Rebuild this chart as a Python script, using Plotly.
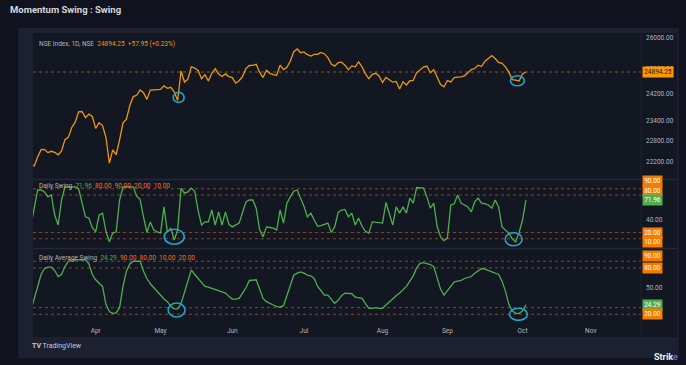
import math
import pandas as pd
import plotly.graph_objects as go

# ---------------- data ----------------
holidays = ["2025-03-14", "2025-03-31", "2025-04-10", "2025-04-14", "2025-04-18",
            "2025-05-01", "2025-08-15", "2025-08-27", "2025-10-02", "2025-10-21",
            "2025-10-22"]

close = [22119, 22083, 22337, 22545, 22553, 22460, 22498, 22470, 22397, 22509,
         22834, 22908, 23191, 23350, 23659, 23669, 23487, 23592, 23519, 23165,
         23332, 23250, 22904, 22162, 22536, 22399, 22829, 23329, 23437, 23852,
         24125, 24167, 24329, 24247, 24039, 24328, 24336, 24334, 24347, 24461,
         24380, 24414, 24274, 24008, 24925, 24578, 24667, 25062, 25020, 24945,
         24683, 24813, 24610, 24853, 25001, 24827, 24752, 24834, 24751, 24717,
         24543, 24621, 24751, 25003, 25103, 25105, 25141, 24888, 24719, 24947,
         24853, 24812, 24794, 25112, 24972, 25045, 25245, 25549, 25637, 25517,
         25542, 25453, 25405, 25461, 25461, 25523, 25476, 25355, 25150, 25082,
         25196, 25212, 25112, 24968, 25091, 25061, 25220, 25062, 24837, 24681,
         24821, 24855, 24768, 24565, 24723, 24650, 24574, 24596, 24363, 24585,
         24487, 24619, 24631, 24877, 24980, 25051, 25084, 24870, 24968, 24712,
         24501, 24427, 24625, 24580, 24715, 24734, 24741, 24773, 24869, 24973,
         25006, 25114, 25069, 25239, 25330, 25424, 25327, 25203, 25170, 25057,
         24891, 24655, 24635, 24611, 24836.30, 24894.25]

daily_swing = [30, 62, 88, 88, 85, 77, 80, 48, 32, 72,
               93, 93, 93, 93, 90, 66, 45, 43, 28, 21,
               48, 51, 22, 5, 19, 21, 72, 93, 93, 93,
               93, 78, 73, 45, 20, 37, 24, 21, 19, 61,
               21, 27, 8, 24, 91, 83, 85, 91, 86, 55,
               32, 37, 37, 56, 32, 53, 32, 53, 33, 29,
               32, 35, 52, 69, 72, 72, 59, 25, 13, 29,
               28, 27, 24, 56, 35, 67, 77, 86, 88, 76,
               62, 45, 51, 40, 30, 31, 33, 35, 20, 29,
               52, 56, 57, 45, 51, 32, 43, 30, 22, 19,
               37, 36, 35, 35, 68, 51, 32, 61, 51, 61,
               51, 75, 67, 92, 92, 91, 77, 59, 67, 30,
               13, 7, 11, 64, 66, 80, 67, 64, 61, 53,
               69, 75, 67, 66, 64, 59, 72, 61, 29, 24,
               19, 10, 5, 20, 40, 71.96]

daily_avg_swing = [15, 33, 53, 70, 79, 81, 81, 76, 67, 70,
                   82, 90, 92, 92, 92, 92, 92, 86, 70, 62,
                   57, 52, 25, 14, 11.5, 12, 20, 52, 75, 86,
                   90, 90, 90, 75, 64, 56, 50, 44, 38, 33,
                   29, 22, 18, 18, 26, 44, 62, 77, 70, 64,
                   57, 52, 51, 49, 47, 45, 43, 42, 37, 33,
                   33, 34, 42, 50, 61, 62, 62, 48, 34, 29,
                   26, 24, 21.5, 21, 23, 39, 56, 69, 72, 74,
                   72, 69, 68, 64, 52, 45, 39, 39, 33, 26.5,
                   31, 38, 42, 42, 41, 36, 35, 34, 26, 19,
                   19, 20, 19, 19, 24, 29, 34, 38, 42, 47,
                   52, 60, 68, 80, 87, 88, 87, 85, 82, 64,
                   48, 39, 46, 53, 59, 60, 61, 64, 65, 67,
                   72, 76, 79, 78, 76, 73, 72, 70, 60, 45,
                   25, 15, 11.5, 11.5, 15, 24.29]

price_ticks = [22200, 22800, 23400, 24200, 25000, 26000]
swing_ticks = [40]
avg_ticks = [50]
swing_levels = [90, 80, 20, 10]
avg_levels = [90, 80, 20, 10]
swing_legend_levels = ["80.00", "90.00", "20.00", "10.00"]
avg_legend_levels = ["90.00", "80.00", "10.00", "20.00"]
month_names = ["Apr", "May", "Jun", "Jul", "Aug", "Sep", "Oct", "Nov"]

# ---------------- calendar / x positions ----------------
all_days = pd.bdate_range("2025-03-03", "2025-11-28")
days = [d for d in all_days if d.strftime("%Y-%m-%d") not in holidays]
x = list(range(len(close)))
month_pos = []
for m in range(4, 12):
    for i, d in enumerate(days):
        if d.month == m:
            month_pos.append(i)
            break

# ---------------- geometry helpers (page decoration only) ----------------
W, H = 686, 365
L, R, T, B = 33, 644, 33, 321
XR = [0.64, 178.7]
Y1R = [4.33677, 4.41774]
PX_PER_X = (R - L) / (XR[1] - XR[0])
PX_PER_LOG = (179 - T) / (Y1R[1] - Y1R[0])


def px(xp):
    return (xp - L) / (R - L)


def py(yp):
    return (B - yp) / (B - T)


BG = "#131722"
FRAME = "#1c2030"
OUTER = "#10131d"
GREY = "#b2b5be"
ORANGE_LINE = "#f0950f"
GREEN = "#4caf50"
LVL = "rgba(235,105,35,0.55)"
BOX_OR = "#f57c00"
CYAN = "#1fa3c9"

fig = go.Figure()
fig.add_trace(go.Scatter(x=x, y=close, mode="lines", xaxis="x", yaxis="y",
                         line=dict(color=ORANGE_LINE, width=1.3), hoverinfo="skip"))
fig.add_trace(go.Scatter(x=x, y=daily_swing, mode="lines", xaxis="x", yaxis="y2",
                         line=dict(color=GREEN, width=1.3), hoverinfo="skip"))
fig.add_trace(go.Scatter(x=x, y=daily_avg_swing, mode="lines", xaxis="x", yaxis="y3",
                         line=dict(color=GREEN, width=1.3), hoverinfo="skip"))

shapes = []
# page decoration
shapes.append(dict(type="rect", xref="paper", yref="paper", x0=px(18), x1=px(682),
                   y0=py(358), y1=py(28), fillcolor=FRAME, line=dict(width=0), layer="below"))
shapes.append(dict(type="rect", xref="paper", yref="paper", x0=px(33), x1=px(680),
                   y0=py(337), y1=py(33), fillcolor=BG, line=dict(width=0), layer="below"))
# pane separators & price-scale border
for yp in (179.5, 248.5):
    shapes.append(dict(type="line", xref="paper", yref="paper", x0=px(33), x1=px(680),
                       y0=py(yp), y1=py(yp), line=dict(color="#232838", width=1.5), layer="below"))
shapes.append(dict(type="line", xref="paper", yref="paper", x0=px(644), x1=px(644),
                   y0=py(337), y1=py(33), line=dict(color="#1e2230", width=1), layer="below"))

# level lines (shape positions on a log axis are given in data units)
last = close[-1]
shapes.append(dict(type="line", xref="x domain", yref="y", x0=0, x1=1, y0=last, y1=last,
                   line=dict(color="rgba(240,150,20,0.55)", width=1, dash="dot")))
for lv in swing_levels:
    shapes.append(dict(type="line", xref="x domain", yref="y2", x0=0, x1=1, y0=lv, y1=lv,
                       line=dict(color=LVL, width=1, dash="dot")))
for lv in avg_levels:
    shapes.append(dict(type="line", xref="x domain", yref="y3", x0=0, x1=1, y0=lv, y1=lv,
                       line=dict(color=LVL, width=1, dash="dot")))

# hand-drawn circles on the price pane (data units; log axis)
price_circles = [(43.3, 24100, 11, 10), (142.5, 24617, 14, 10)]
for cx, cy, w, h in price_circles:
    dx = w / 2 / PX_PER_X
    dl = h / 2 / PX_PER_LOG
    shapes.append(dict(type="circle", xref="x", yref="y", x0=cx - dx, x1=cx + dx,
                       y0=cy / 10 ** dl, y1=cy * 10 ** dl,
                       line=dict(color=CYAN, width=1.6)))
# hand-drawn circles on the oscillator panes (anchored in data space, sized in pixels)
circles = [("y2", 42.0, 13.3, 20, 15),
           ("y2", 141.4, 9.1, 17, 13),
           ("y3", 42.7, 16.5, 17, 14),
           ("y3", 142.8, 10.0, 18, 12)]
for yr, cx, cy, w, h in circles:
    shapes.append(dict(type="circle", xref="x", yref=yr, xsizemode="pixel", ysizemode="pixel",
                       xanchor=cx, yanchor=cy, x0=-w / 2, x1=w / 2, y0=-h / 2, y1=h / 2,
                       line=dict(color=CYAN, width=1.6)))

ann = []
FONT = "Roboto, Arial, sans-serif"
# title
ann.append(dict(text="<b>Momentum Swing : Swing</b>", xref="paper", yref="paper",
                x=px(8), y=py(10), xanchor="left", yanchor="middle", showarrow=False,
                font=dict(family=FONT, size=9.5, color="#d6d8de")))

chg = close[-1] - close[-2]
pct = chg / close[-2] * 100
ann.append(dict(text=f"NSE Index, 1D, NSE  <span style='color:{ORANGE_LINE}'>{close[-1]:.2f}  "
                     f"{chg:+.2f} ({pct:+.2f}%)</span>",
                xref="paper", yref="paper", x=px(37), y=py(44), xanchor="left", yanchor="middle",
                showarrow=False, font=dict(family=FONT, size=6.5, color=GREY)))
ann.append(dict(text=f"Daily Swing  <span style='color:{GREEN}'>{daily_swing[-1]:.2f}</span>  "
                     f"<span style='color:#ff6a10'>{'  '.join(swing_legend_levels)}</span>",
                xref="paper", yref="paper", x=px(37), y=py(186), xanchor="left", yanchor="middle",
                showarrow=False, font=dict(family=FONT, size=6.5, color=GREY)))
ann.append(dict(text=f"Daily Average Swing  <span style='color:{GREEN}'>{daily_avg_swing[-1]:.2f}</span>  "
                     f"<span style='color:#ff6a10'>{'  '.join(avg_legend_levels)}</span>",
                xref="paper", yref="paper", x=px(37), y=py(258), xanchor="left", yanchor="middle",
                showarrow=False, font=dict(family=FONT, size=6.5, color=GREY)))


def box(text, yref, yv, bg, fg, shift=0):
    return dict(text=text, xref="paper", yref=yref, x=px(645.5), y=yv, xanchor="left",
                yanchor="middle", yshift=shift, showarrow=False, bgcolor=bg, borderpad=1.2,
                font=dict(family=FONT, size=6.5, color=fg))


# annotation positions on a log axis are given in log10 units
ann.append(box(f"{close[-1]:.2f}", "y", math.log10(close[-1]), "#ff9800", "#131722"))
ann.append(box("90.00", "y2", 90, BOX_OR, "white", 7.5))
ann.append(box("80.00", "y2", 80, BOX_OR, "white", 4))
ann.append(box(f"{daily_swing[-1]:.2f}", "y2", daily_swing[-1], GREEN, "white", 0))
ann.append(box("20.00", "y2", 20, BOX_OR, "white", 0))
ann.append(box("10.00", "y2", 10, BOX_OR, "white", -3.3))
ann.append(box("90.00", "y3", 90, BOX_OR, "white", 5.5))
ann.append(box("80.00", "y3", 80, BOX_OR, "white", 0))
ann.append(box(f"{daily_avg_swing[-1]:.2f}", "y3", daily_avg_swing[-1], GREEN, "white", 0))
ann.append(box("20.00", "y3", 20, BOX_OR, "white", -6))

# footer
ann.append(dict(text="<b>TV</b> TradingView", xref="paper", yref="paper", x=px(30), y=py(346),
                xanchor="left", yanchor="middle", showarrow=False,
                font=dict(family=FONT, size=7, color="#c9ccd4")))
ann.append(dict(text="<b>Strik<span style='color:#3c6cf0'>e</span></b>", xref="paper", yref="paper",
                x=px(683), y=py(357), xanchor="right", yanchor="middle", showarrow=False,
                font=dict(family=FONT, size=9, color="#f0f0f0")))

axis_common = dict(showgrid=False, zeroline=False, showline=False, ticks="",
                   tickfont=dict(family=FONT, size=6.5, color=GREY), fixedrange=True)

fig.update_layout(
    width=W, height=H,
    margin=dict(l=L, r=W - R, t=T, b=H - B),
    paper_bgcolor=OUTER, plot_bgcolor="rgba(0,0,0,0)",
    showlegend=False,
    xaxis=dict(domain=[0, 1], range=XR, anchor="y3",
               tickvals=month_pos, ticktext=month_names, ticklabelstandoff=4, **axis_common),
    yaxis=dict(domain=[py(179), 1], type="log", range=Y1R, side="right",
               anchor="x", tickvals=price_ticks, ticktext=[f"{v:.2f}" for v in price_ticks],
               ticklabelstandoff=4, **axis_common),
    yaxis2=dict(domain=[py(248), py(180)], range=[-4.8, 104], side="right", anchor="x",
                tickvals=swing_ticks, ticktext=[f"{v:.2f}" for v in swing_ticks],
                ticklabelstandoff=4, **axis_common),
    yaxis3=dict(domain=[0, py(249)], range=[-0.15, 108.5], side="right", anchor="x",
                tickvals=avg_ticks, ticktext=[f"{v:.2f}" for v in avg_ticks],
                ticklabelstandoff=4, **axis_common),
    shapes=shapes, annotations=ann,
)

fig.write_html("out.html", config={"displayModeBar": False},
               post_script="document.body.style.margin='0px';document.body.style.overflow='hidden';")
